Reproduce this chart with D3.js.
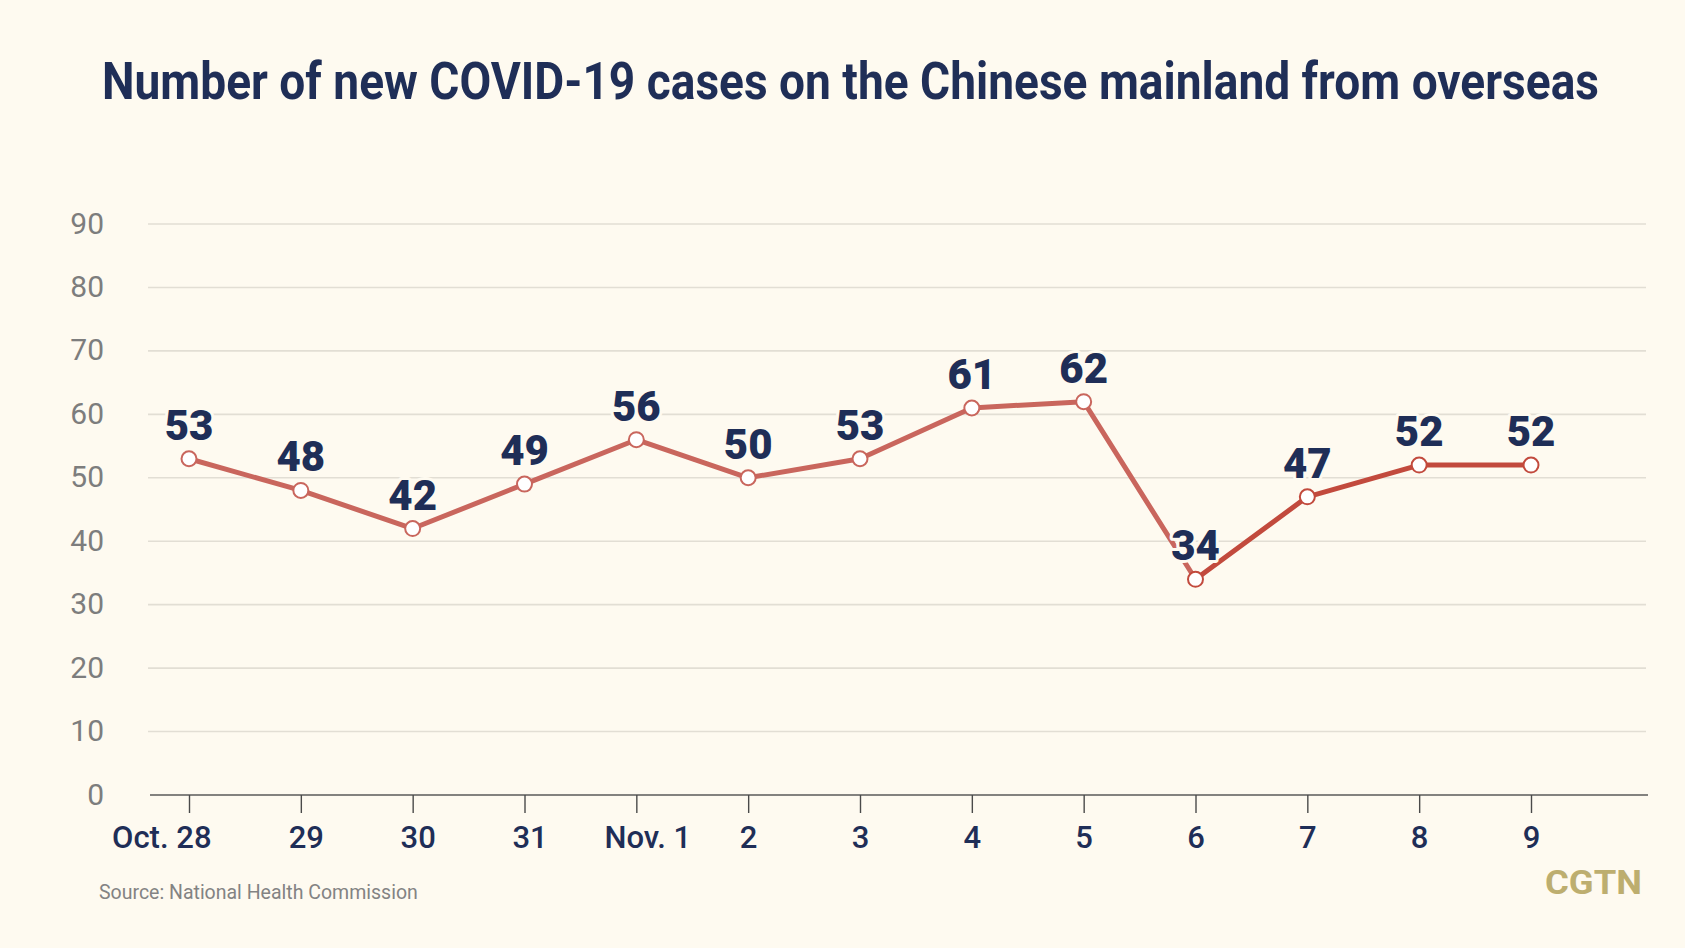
<!DOCTYPE html>
<html>
<head>
<meta charset="utf-8">
<script src="https://cdn.jsdelivr.net/npm/d3@7/dist/d3.min.js"></script>
<style>
  html, body { margin: 0; padding: 0; background: #fefaf0; }
  svg { display: block; }
</style>
</head>
<body>
<svg id="chart" width="1685" height="948"></svg>
<script>
const categories = ["Oct. 28", "29", "30", "31", "Nov. 1", "2", "3", "4", "5", "6", "7", "8", "9"];
const cases = [53, 48, 42, 49, 56, 50, 53, 61, 62, 34, 47, 52, 52];
const yTicks = [0, 10, 20, 30, 40, 50, 60, 70, 80, 90];
const titleText = "Number of new COVID-19 cases on the Chinese mainland from overseas";
const sourceText = "Source: National Health Commission";
const logoText = "CGTN";

const W = 1685, H = 948;
const bg = "#fefaf0";
const navy = "#1f2e57";
const svg = d3.select("#chart");

svg.append("rect").attr("width", W).attr("height", H).attr("fill", bg);

const x = d3.scalePoint().domain(categories).range([189, 1531]);
const y = d3.scaleLinear().domain([0, 90]).range([795, 224]);

// Title (slightly vertically stretched to mimic a condensed face)
svg.append("text")
  .attr("transform", "translate(102,99) scale(1,1.16)")
  .attr("x", 0).attr("y", 0)
  .attr("textLength", 1497).attr("lengthAdjust", "spacingAndGlyphs")
  .attr("font-family", "Roboto, 'DejaVu Sans', sans-serif")
  .attr("font-weight", 700).attr("font-size", 44)
  .attr("fill", navy)
  .text(titleText);

// Y axis labels
const yAxis = d3.axisLeft(y).tickValues(yTicks).tickSize(0).tickPadding(0);
const gy = svg.append("g").attr("transform", "translate(104,0)").call(yAxis);
gy.select(".domain").remove();
gy.selectAll("text")
  .attr("font-family", "Roboto, sans-serif")
  .attr("font-size", 30)
  .attr("fill", "#7d7d7d")
  .attr("dy", "0.3em");

// Gridlines
svg.append("g").selectAll("line")
  .data(yTicks.filter(d => d > 0))
  .join("line")
  .attr("x1", 148).attr("x2", 1646)
  .attr("y1", d => y(d)).attr("y2", d => y(d))
  .attr("stroke", "#e2ded4").attr("stroke-width", 1.6);

// X axis
const xAxis = d3.axisBottom(x).tickSize(18).tickPadding(13);
const gx = svg.append("g").attr("transform", `translate(0,${y(0)})`).call(xAxis);
gx.select(".domain").attr("d", "M150,0H1648").attr("stroke", "#5a5a5a").attr("stroke-width", 1.5);
gx.selectAll(".tick line").attr("stroke", "#4a4a4a").attr("stroke-width", 1.4);
gx.selectAll(".tick text")
  .attr("font-family", "Roboto, sans-serif")
  .attr("font-weight", 500)
  .attr("font-size", 31)
  .attr("fill", navy)
  .attr("dy", "0.71em")
  .attr("text-anchor", (d, i) => i === 0 ? "end" : "middle")
  .attr("dx", (d, i) => i === 0 ? 22 : (d.startsWith("Nov") ? 11 : (i < 4 ? 5 : 0)));

// Lines
const pts = cases.map((v, i) => ({ c: categories[i], v }));
const line = d3.line().x(d => x(d.c)).y(d => y(d.v));
svg.append("path")
  .datum(pts.slice(0, 10))
  .attr("d", line)
  .attr("fill", "none").attr("stroke", "#c9665d").attr("stroke-width", 5)
  .attr("stroke-linejoin", "round");
svg.append("path")
  .datum(pts.slice(9))
  .attr("d", line)
  .attr("fill", "none").attr("stroke", "#c24a3d").attr("stroke-width", 5)
  .attr("stroke-linejoin", "round");

// Labels
svg.append("g").selectAll("text")
  .data(pts)
  .join("text")
  .attr("x", d => x(d.c))
  .attr("y", d => y(d.v) - 19)
  .attr("text-anchor", "middle")
  .attr("font-family", "Roboto, sans-serif")
  .attr("font-weight", 900)
  .attr("font-size", 42)
  .attr("fill", navy)
  .attr("stroke", bg).attr("stroke-width", 6)
  .attr("paint-order", "stroke")
  .attr("stroke-linejoin", "round")
  .text(d => d.v);

// Points
svg.append("g").selectAll("circle")
  .data(pts)
  .join("circle")
  .attr("cx", d => x(d.c))
  .attr("cy", d => y(d.v))
  .attr("r", 7.5)
  .attr("fill", "#ffffff")
  .attr("stroke", (d, i) => i >= 9 ? "#c24a3d" : "#c9665d")
  .attr("stroke-width", 2);

// Source
svg.append("text")
  .attr("x", 99).attr("y", 899)
  .attr("font-family", "Roboto, sans-serif")
  .attr("font-size", 19.5)
  .attr("fill", "#838383")
  .text(sourceText);

// Logo
svg.append("text")
  .attr("x", 1545).attr("y", 894)
  .attr("textLength", 97).attr("lengthAdjust", "spacingAndGlyphs")
  .attr("font-family", "Roboto, sans-serif")
  .attr("font-weight", 700)
  .attr("font-size", 33)
  .attr("fill", "#bdae6f")
  .text(logoText);
</script>
</body>
</html>
